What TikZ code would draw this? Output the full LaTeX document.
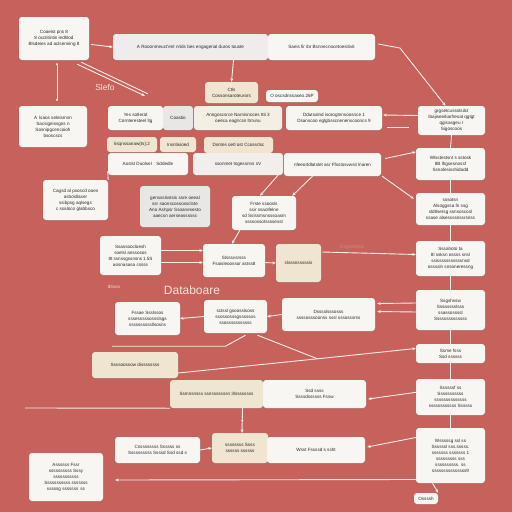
\documentclass[tikz,border=0pt]{standalone}
\usepackage{fontspec}
\setmainfont{Liberation Sans}
\usetikzlibrary{shadows,calc,arrows.meta}
\definecolor{bgred}{HTML}{C6625B}
\definecolor{boxw}{HTML}{F8F6F3}
\definecolor{boxbeige}{HTML}{EFE5D0}
\definecolor{boxgrey}{HTML}{E9E7E6}
\definecolor{linec}{HTML}{F6ECE8}
\definecolor{txt}{HTML}{2C2828}
\definecolor{pinktxt}{HTML}{F8E2DC}
\tikzset{
  base/.style={rounded corners=3pt, align=center, inner sep=1pt, text=txt,
    font=\fontsize{4.6}{6}\selectfont,
    drop shadow={opacity=0.22, shadow xshift=1pt, shadow yshift=-1.5pt}},
  wbox/.style={base, fill=boxw},
  bbox/.style={base, fill=boxbeige},
  gbox/.style={base, fill=boxgrey},
  conn/.style={draw=linec, line width=0.9pt},
  arr/.style={conn, -{Stealth[length=3.5pt,width=3pt]}},
  sz/.style 2 args={minimum width=#1pt, minimum height=#2pt},
  lbl/.style={text=pinktxt, inner sep=0pt}
}
\begin{document}
\begin{tikzpicture}[x=1pt,y=-1pt]
\fill[bgred] (0,0) rectangle (512,512);
\useasboundingbox (0,0) rectangle (512,512);

% ---- nodes ----
\node[wbox, sz={70}{43}] (n1) at (54,38.5) {Coaeist pns 8\\8 occtitintin iedhlod\\Blsdeies ad aclsenning 8};
\node[wbox, sz={155}{26}, fill=boxgrey!60!boxw] (n2a) at (190.5,47) {A Rooonmeuct'ent nrids bes engagenal duros touste};
\node[wbox, sz={107}{26}] (n2b) at (321.5,47) {Saeis fir ibr Bsnnecnocetoesitivit};
\node[lbl, font=\fontsize{8.5}{9}\selectfont] (slefo) at (105,87) {Slefo};
\node[wbox, sz={68}{41}] (n4) at (53,126.5) {A\, lsaos seleisrnsn\\Sacsigeissgns n\\Sosnipgcencoioh\\bsoscscs};
\node[bbox, sz={53}{21}] (n5) at (231.5,92.5) {Ctls\\Cossonsaroteurors};
\node[wbox, sz={52}{12}] (n6) at (292,96) {O oscsdnssaseo.26P};
\node[wbox, sz={55}{24}] (n7a) at (135.5,118) {Yes sotlerat\\Cornteresteel ltg};
\node[gbox, sz={30}{24}] (n7b) at (178,118) {Coastio};
\node[wbox, sz={88}{24}, fill=boxbeige!40!boxw] (n7c) at (238,118) {Anngoscsrce Narnisnoces ttti 3\\oeeca eaglrcsn ltrrunu};
\node[wbox, sz={96}{24}] (n7d) at (334,118) {Ddutsalnd isorogtnnsoosnce 1\\Dsanscoo eglgbsscnenenscooncs 9};
\node[wbox, sz={67}{29}] (n8) at (451.5,120.5) {grgsetcussstsilct\\Ibajiseeitiarfresat qgtgt\\qgisasgeu r\\Sigoscoos};
\node[bbox, sz={50}{15}] (n9a) at (132,144.5) {Iisqnssanaw(ts);2};
\node[bbox, sz={36}{15}] (n9b) at (178,144.5) {Insntisioed};
\node[bbox, sz={69}{16}] (n9c) at (238.5,145) {Dsntes oetl ost Ccossrtsc};
\node[wbox, sz={80}{22}] (n10a) at (148,164) {Aoslst Duolsel\quad Sddedle};
\node[gbox, sz={90}{22}, fill=boxgrey!50!boxw] (n10b) at (238,164) {ssonmet tngessnns sV};
\node[wbox, sz={97}{23}] (n10c) at (332.5,164.5) {nfeeortdlatslet asr Ffsstosvwsit lnaren};
\node[wbox, sz={69}{32}] (n11) at (450.5,164) {Wlsstestsnt s sstosk\\8B lhgsesnossf\\Ssnolesisshidadd};
\node[wbox, sz={65}{40}] (n12) at (75.5,200) {Cagsd al psoscd oaes\\asbosllaser\\ssibpsg aqlsegs\\c ssaloco glabbsco};
\node[gbox, sz={70}{41}] (n13) at (175,206.5) {genssslsstsis ssre oeeal\\ssr saonscossossclste\\Ano Ashpsr Ssoanesesto\\aaecsn aerseassssss};
\node[wbox, sz={64}{34}] (n14) at (264,213) {Frste ssoosls\\ssir ssaolfelne\\sd Sslssmsnsssoasm\\ssssossotssssesst};
\node[wbox, sz={69}{32}] (n15) at (450.5,209) {sssotsn\\Alsoggssa fn ssg\\sldtlsersg ssnsoscosl\\ssase alsessssnssrsnss};
\node[wbox, sz={61}{39}] (n16) at (130.5,255.5) {Ssassoocloesh\\soelsl anssosos\\8t ssnssgssnsns\,1.5S\\aosnasasa cssss};
\node[wbox, sz={62}{33}] (n17) at (234,260.5) {Slsssvsrsss\\Fsaisleoossor astss8};
\node[bbox, sz={45}{38}] (n18) at (298.5,263) {slsssnsssssis};
\node[wbox, sz={69}{35}] (n19) at (450.5,258.5) {Sssahoto ta\\8l ssksn ossss snsl\\ssisssssssssssnsd\\ossssln snsoneressng};
\node[lbl, font=\fontsize{12}{13}\selectfont] (dbl) at (192,290) {Databoare};
\node[lbl, font=\fontsize{4.5}{5}\selectfont] (sl2) at (114,287) {\$3ssn};
\node[lbl, font=\fontsize{5}{6}\selectfont, text=bgred!75!white] (sl3) at (352,247) {Dsgsshsss};
\node[wbox, sz={65}{33}] (n21) at (147.5,318.5) {Fssae Ssslssos\\sssesssssossslsgs\\ssssssssssllsosns};
\node[wbox, sz={63}{33}] (n22) at (235.5,316.5) {sctssl gsoosslsoss\\ssossosssgsssssos\\ssosssssssssss};
\node[wbox, sz={93}{33}] (n23) at (328.5,314.5) {Dsssslsssosss\\ssssosssoonss sssl sssosssms};
\node[wbox, sz={69}{40}] (n24) at (450.5,310) {Ssgshssw\\Sssasssslsss\\ssassossssl\\Ssssssssssssss};
\node[bbox, sz={86}{26}] (n25) at (135,365) {Ssssoossow dissssssss};
\node[bbox, sz={93}{28}] (n26a) at (216.5,394) {Ssmnsnsss ssnsssssssn 3lssssssss};
\node[wbox, sz={103}{28}] (n26b) at (314.5,394) {Ssd ssss\\Ssssdssssss Fssw};
\node[wbox, sz={69}{19}] (n27) at (450.5,353.5) {Ssme fsss\\Ssd ssssss};
\node[wbox, sz={69}{36}] (n28) at (450.5,397) {Ssssssf ss\\Sssssssssss\\ssssssssssssss\\ssssssssssss Ssssss};
\node[wbox, sz={85}{26}] (n29) at (157.5,450) {Csssssssss Ssssss ss\\Ssssssssss Ssssd Ssd ssd s};
\node[bbox, sz={56}{30}] (n30) at (240,448) {ssssssss Ssss\\ssssss ssssss};
\node[wbox, sz={98}{26}] (n31) at (316,450) {Wsst Fssssd s ssht};
\node[wbox, sz={69}{55}] (n32) at (450.5,455.5) {Wsssssg ssl ss\\Ssssssl sss.sssss.\\sssssss sssssss 1\\sssssssss sss\\ssssssssss. ss\\sssssssssssssss9};
\node[wbox, sz={74}{48}] (n33) at (66,477) {Assssss Fssr\\ssssssssss Sssy\\sssssssssss\\Sssssssssss sssssss\\sssssg sssssss\, ss};
\node[wbox, sz={24}{11}] (n34) at (426,498.5) {Ossssh};

% ---- connectors ----
\draw[arr] ($(n1.east)+(2,6)$) -- (n2a.west);
\draw[conn] ($(n1.south)+(3,4)$) -- ($(n4.north)+(4,-6)$);
\fill[linec] ($(n1.south)+(3,4)$) circle (1.2pt) ($(n4.north)+(4,-6)$) circle (1.2pt);
\draw[arr] ($(n1.south east)+(-12,4)$) -- ($(n7a.north west)+(37,-10)$);
\draw[conn] ($(n1.south east)+(-8,2)$) -- ($(n7a.north west)+(40,-12)$);
\draw[arr] ($(n2a.south)+(43,0)$) -- (n5.north);
\draw[arr] ($(n2b.east)+(3,-3)$) -- (400,48) -- ($(n8.north)+(-6,0)$);
\draw[arr] ($(n8.west)+(0,-5)$) -- ($(n7d.east)+(1,-3)$);
\draw[conn] (n8.south) -- (n11.north);
\draw[conn] (n11.south) -- (n15.north);
\draw[conn] (n15.south) -- (n19.north);
\draw[conn] (n19.south) -- (n24.north);
\draw[conn] (n24.south) -- (n27.north);
\draw[conn] (n27.south) -- (n28.north);
\draw[conn] (n28.south) -- (n32.north);
\draw[arr] ($(n10c.east)+(4,-6)$) -- ($(n11.west)+(0,-12)$);
\draw[conn] ($(n10c.north east)+(6,-25)$) -- ($(n10c.north east)+(28,-25)$);
\draw[arr] ($(n10c.south east)+(1,0)$) -- ($(n15.north west)+(-2,6)$);
\draw[arr] ($(n18.east)+(1,-11)$) -- ($(n19.west)+(0,-4)$);
\draw[arr] ($(n24.west)+(0,-7)$) -- ($(n23.east)+(2,-11)$);
\draw[arr] ($(n24.west)+(0,2)$) -- ($(n23.east)+(2,-3)$);
\draw[arr] (n23.west) -- (n22.east);
\draw[arr] (n22.west) -- (n21.east);
\draw[arr] ($(n16.east)+(0,-5)$) -- ($(n17.west)+(0,-10)$);
\draw[arr] ($(n16.east)+(0,7)$) -- ($(n17.west)+(0,2)$);
\draw[arr] ($(n17.east)+(0,2)$) -- ($(n18.west)+(0,0)$);
\draw[arr] ($(n14.south west)+(8,0)$) -- ($(n17.north)+(-2,0)$);
\draw[arr] ($(n10b.south)+(40,0)$) -- ($(n14.north)+(-4,0)$);
\draw[arr] ($(n10c.south)+(-20,0)$) -- ($(n14.north east)+(-4,0)$);
\draw[conn] (n12.north east) -- ($(n10a.south west)+(0,-4)$);
\draw[conn] ($(n21.south west)+(-3,11)$) -- ($(n22.south)+(-10,13)$) -- ($(n22.south)+(10,2)$);
\draw[arr] ($(n22.south)+(22,2)$) -- ($(n26b.north)+(3,-21)$) -- ($(n27.west)+(0,-5)$);
\draw[conn] ($(n25.east)+(0,8)$) -- ($(n26b.north)+(3,-21)$);
\draw[conn] (25,408) -- (n26a.south west);
\draw[arr] ($(n26a.south)+(26,0)$) -- ($(n30.north)+(2,0)$);
\fill[linec] ($(n26a.south)!0.5!(n30.north)+(14,0)$) circle (1.2pt);
\draw[arr] (n29.east) -- (n30.west);
\draw[arr] ($(n26b.east)+(52,-2)$) -- ($(n26b.east)+(2,5)$);
\draw[arr] ($(n32.west)+(0,-18)$) -- ($(n31.east)+(2,-3)$);
\draw[arr] ($(n32.south)+(-18,0)$) -- (n34.north east);
\draw[arr] ($(n32.west)+(0,24)$) -- ($(n33.east)+(12,3)$);
\end{tikzpicture}
\end{document}
